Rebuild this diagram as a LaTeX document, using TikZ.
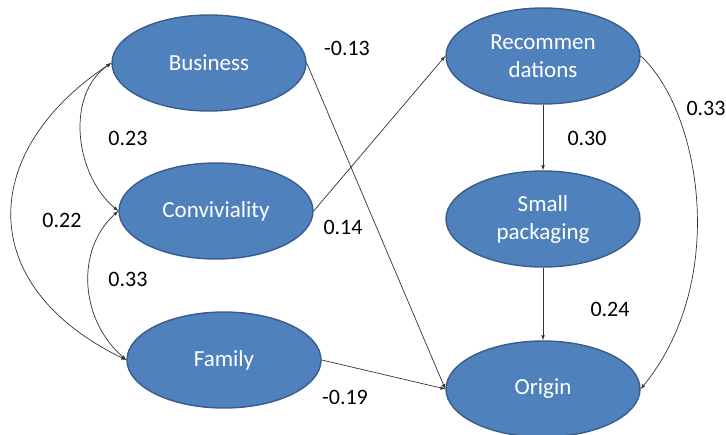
\documentclass[tikz,border=0pt]{standalone}
\usepackage{fontspec}
\setmainfont{Carlito}
\usepackage{xcolor}
\usetikzlibrary{shapes.geometric}

\definecolor{nodeblue}{HTML}{4F81BD}
\definecolor{nodeedge}{HTML}{385D8A}
\tikzset{
	>=latex,
	factor/.style={ellipse,draw=nodeedge,line width=1.4pt,fill=nodeblue,text=white,
		minimum width=194pt,minimum height=96pt,inner sep=0pt,align=center,
		font=\fontsize{23}{28}\selectfont},
	coef/.style={font=\fontsize{22}{26}\selectfont,inner sep=0pt},
	path/.style={->,draw=black!80,line width=0.7pt},
	cov/.style={<->,draw=black!80,line width=0.7pt}
}

\begin{document}
\begin{tikzpicture}[x=1pt,y=-1pt]
			\useasboundingbox (0,0) rectangle (726,434);
			\node[factor] (bus) at (209,63) {Business};
			\node[factor] (conv) at (216,211) {Conviviality};
			\node[factor] (fam) at (224,360) {Family};
			\node[factor] (rec) at (543,56) {Recommen\\dations};
			\node[factor] (pack) at (543,219) {Small\\packaging};
			\node[factor] (ori) at (543,389) {Origin};
			% paths
			\draw[path] (bus.east) -- (ori.west);
			\draw[path] (conv.east) -- (rec.west);
			\draw[path] (fam.east) -- (ori.west);
			\draw[path] (rec.south) -- (pack.north);
			\draw[path] (pack.south) -- (ori.north);
			\draw[path] (rec.east) .. controls (700,110) and (730,280) .. (ori.east);
			% covariances
			\draw[cov] (bus.west) .. controls (65,95) and (75,175) .. (conv.west);
			\draw[cov] (conv.west) .. controls (75,250) and (80,320) .. (fam.west);
			\draw[cov] (bus.west) .. controls (-20,150) and (-28,285) .. (fam.west);
			% coefficients
			\node[coef] (c1) at (347,48) {-0.13};
			\node[coef] (c2) at (343,227) {0.14};
			\node[coef] (c3) at (345,397) {-0.19};
			\node[coef] (c4) at (128,138) {0.23};
			\node[coef] (c5) at (62,220) {0.22};
			\node[coef] (c6) at (128,279) {0.33};
			\node[coef] (c7) at (587,138) {0.30};
			\node[coef] (c8) at (610,309) {0.24};
			\node[coef] (c9) at (706,108) {0.33};
		\end{tikzpicture}
\end{document}
